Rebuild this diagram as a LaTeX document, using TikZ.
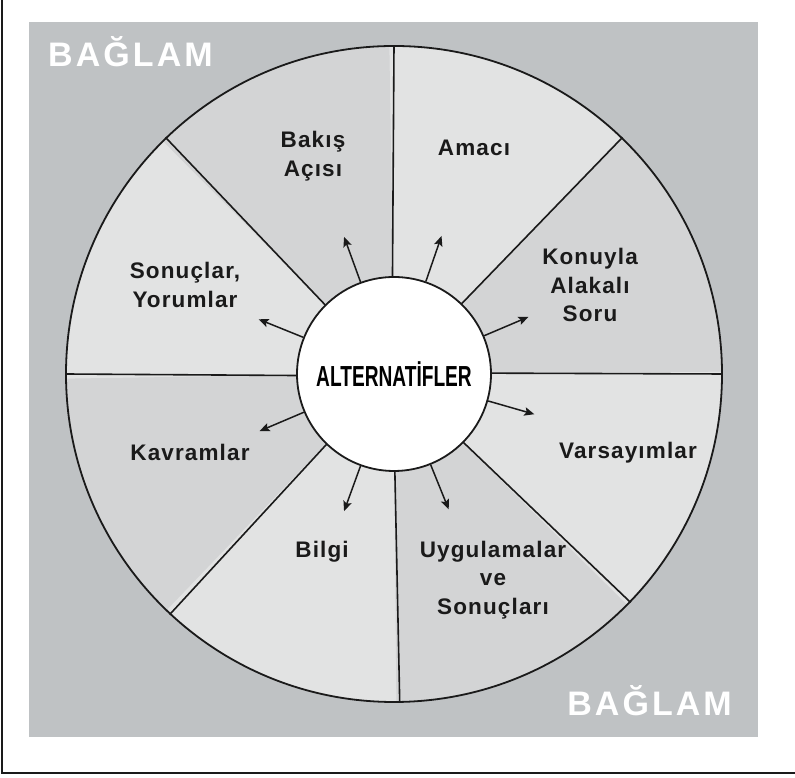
\documentclass[tikz,border=0pt]{standalone}
\usepackage{fontspec}
\setmainfont{Liberation Sans}
\newfontfamily\labfont[LetterSpace=5]{Liberation Sans}
\newfontfamily\ctxfont[LetterSpace=9]{Liberation Sans}
\newfontfamily\corefont[FakeStretch=0.66]{Liberation Sans}
\usetikzlibrary{arrows.meta,calc}
\definecolor{paper}{HTML}{BFC2C4}
\definecolor{sectA}{HTML}{E2E3E3}
\definecolor{sectB}{HTML}{D3D4D5}
\definecolor{ink}{HTML}{1A1A1A}
\begin{document}
\begin{tikzpicture}[x=1pt,y=1pt,
  lab/.style={font=\labfont\bfseries\fontsize{22.5}{28.5}\selectfont, align=center, text=ink},
  ctx/.style={font=\ctxfont\bfseries\fontsize{34}{34}\selectfont, text=white, inner sep=0},
  ray/.style={ink, line width=1.5pt, -{Stealth[length=10pt,width=8.5pt,inset=2pt]}},
  divider/.style={ink, line width=1.6pt}]
\useasboundingbox (0,0) rectangle (795,778);
% page frame and grey context panel
\fill[paper] (29,41) rectangle (758,756);
\draw[ink, line width=2.5pt] (2,778) -- (2,5) -- (795,5);

\coordinate (c) at (394,404);
% alternating sector shading
\foreach \a/\b/\col in {46.1/90.9/sectA, 90.9/134.9/sectB, 134.9/180.9/sectA,
    180.9/226.2/sectB, 226.2/270.5/sectA, 270.5/315.4/sectB, 315.4/360.5/sectA, 0.5/46.1/sectB}
  \filldraw[fill=\col, draw=\col, line width=1pt, line join=round]
    (c) -- ++(\a:327) arc[start angle=\a, end angle=\b, radius=327] -- cycle;

\node[circle, draw=ink, line width=1.8pt, minimum size=656pt, inner sep=0] (ring) at (c) {};

% dividers between the elements
\foreach \a in {90.9,46.1,0.5,-44.6,-89.5,-133.8,180.9,134.9}
  \draw[divider] (c) ++(\a:97) -- (ring.\a);

\node[circle, draw=ink, fill=white, line width=1.8pt, minimum size=194pt, inner sep=0] (alt) at (c)
  {\corefont\bfseries\fontsize{29}{29}\selectfont ALTERNAT\.IFLER};

% arrows from the centre towards each element
\foreach \a [count=\i] in {110,71,23,-16,-68,-110,-157,158} {
  \coordinate (tip-\i) at ($(c)+(\a:146)$);
  \draw[ray] (alt.\a) -- (tip-\i);
}

% element labels
\node[lab] (bakis) at (313,622) {Bakış\\Açısı};
\node[lab] (amac) at (474,630) {Amacı};
\node[lab] (soru) at (590,493) {Konuyla\\Alakalı\\Soru};
\node[lab] (vars) at (628,325) {Varsayımlar};
\node[lab] (uyg) at (493,198) {Uygulamalar\\ve\\Sonuçları};
\node[lab] (bilgi) at (322,226) {Bilgi};
\node[lab] (kavr) at (190,326) {Kavramlar};
\node[lab] (sonuc) at (185,493) {Sonuçlar,\\Yorumlar};

% context captions
\node[ctx, anchor=base west] (ctxtop) at (48,711) {BAĞLAM};
\node[ctx, anchor=base east] (ctxbot) at (732,62) {BAĞLAM};
\end{tikzpicture}
\end{document}
